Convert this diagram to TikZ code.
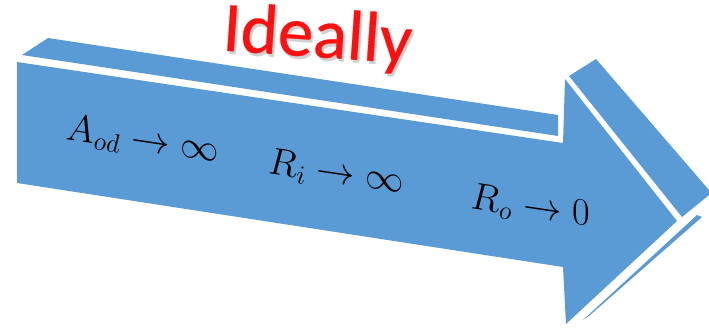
\documentclass[tikz,border=0pt]{standalone}
\usepackage{fontspec}
\newfontfamily\carlito[FakeBold=0.4]{Carlito}
\definecolor{arrowblue}{HTML}{5B9BD5}
\definecolor{idred}{HTML}{FF1010}
\begin{document}
\begin{tikzpicture}[x=1pt,y=-1pt,
  face/.style={fill=arrowblue,draw=none},
  lbl/.style={font=\fontsize{20}{24}\selectfont, scale=1.85, yslant=-0.15, transform shape, inner sep=0pt},
  title/.style={font=\carlito\fontsize{71}{80}\selectfont, inner sep=0pt, anchor=base, rotate=-4}]
\useasboundingbox (0,0) rectangle (709,327);
% top face of the shaft
\fill[face] (22,55) -- (48,38) -- (558,115) -- (558,136) -- cycle;
% upper side face of the head
\fill[face] (569,76) -- (596,59) -- (709,190) -- (709,195) -- (682,217) -- cycle;
% lower sliver of the head
\fill[face] (697,215) -- (702,217) -- (589,316) -- (583,320) -- cycle;
% front face
\fill[face] (17,62) -- (563,143) -- (565,79) -- (677,221) -- (566,324) -- (563,267) -- (17,183) -- cycle;
% labels
\node[lbl] (aod) at (142,141) {$A_{od}\rightarrow\infty$};
\node[lbl] (ri) at (336,173) {$R_{i}\rightarrow\infty$};
\node[lbl] (ro) at (530,207) {$R_{o}\rightarrow 0$};
% title
\node[title, text=black!18] (shadow) at (318,60) {Ideally};
\node[title, text=idred] (ttl) at (316,57) {Ideally};
\end{tikzpicture}
\end{document}
